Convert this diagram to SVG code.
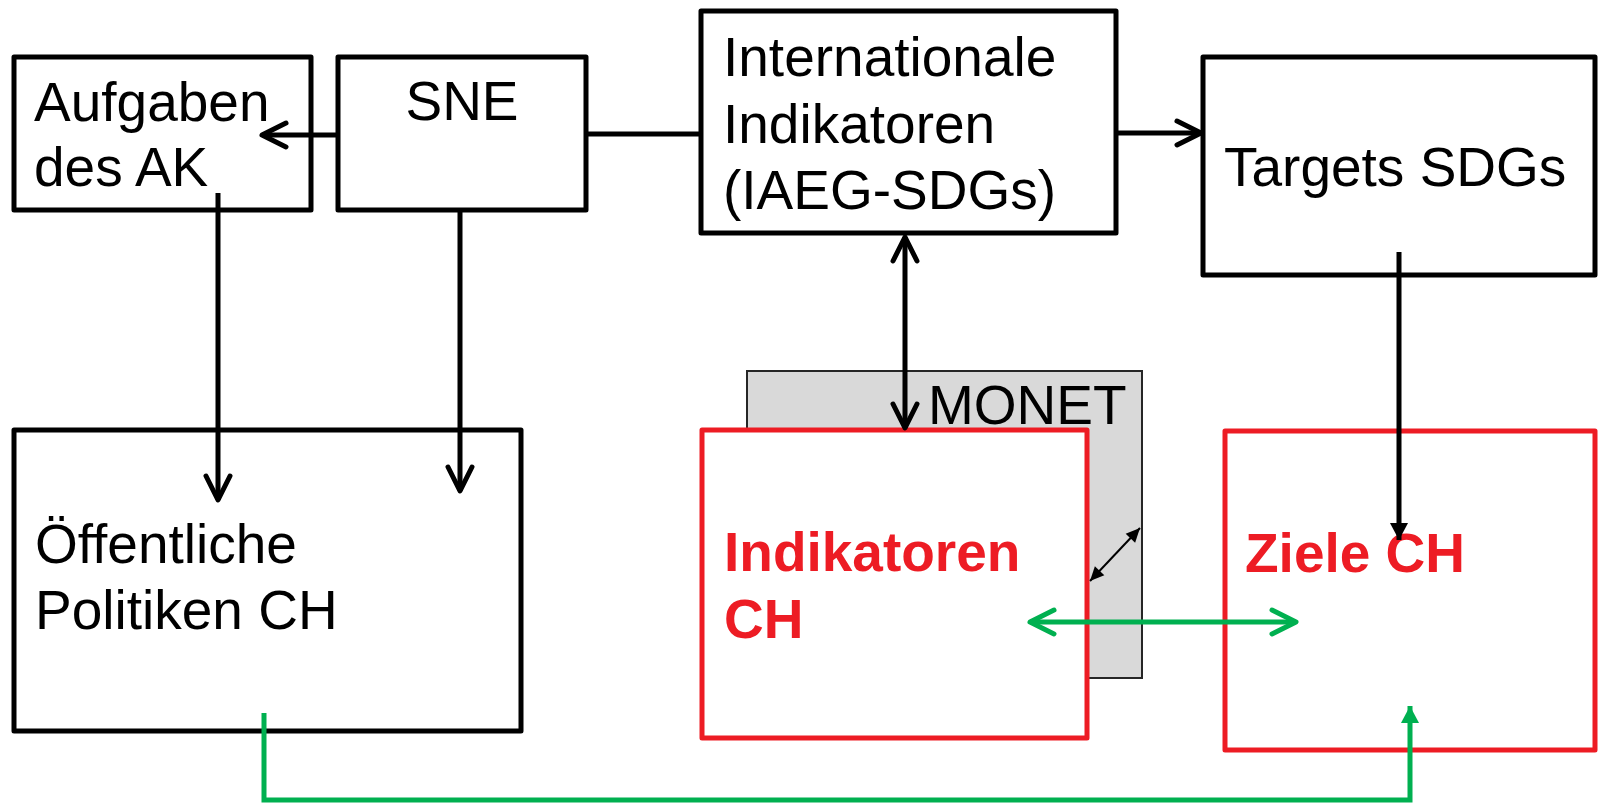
<svg xmlns="http://www.w3.org/2000/svg" width="1603" height="803" viewBox="0 0 1603 803">
<style>
.box{fill:#fff;stroke:#000;stroke-width:5;stroke-linejoin:round}
.rbox{fill:#fff;stroke:#ED1C24;stroke-width:5;stroke-linejoin:round}
.t{font-family:"Liberation Sans",Arial,sans-serif;font-size:55px;fill:#000}
.rt{font-family:"Liberation Sans",Arial,sans-serif;font-size:55px;font-weight:bold;fill:#ED1C24}
.bl{fill:none;stroke:#000;stroke-width:5}
.gl{fill:none;stroke:#00B050;stroke-width:5}
</style>
<defs>
<marker id="chev" markerUnits="userSpaceOnUse" viewBox="-30 -16 34 32" refX="0" refY="0" markerWidth="34" markerHeight="32" orient="auto-start-reverse" overflow="visible">
<path d="M-24 -12 L0 0 L-24 12" fill="none" stroke="#000" stroke-width="5" stroke-linecap="round" stroke-linejoin="round"/>
</marker>
<marker id="gchev" markerUnits="userSpaceOnUse" viewBox="-30 -16 34 32" refX="0" refY="0" markerWidth="34" markerHeight="32" orient="auto-start-reverse" overflow="visible">
<path d="M-24 -12 L0 0 L-24 12" fill="none" stroke="#00B050" stroke-width="5" stroke-linecap="round" stroke-linejoin="round"/>
</marker>
<marker id="tri" markerUnits="userSpaceOnUse" viewBox="-20 -10 22 20" refX="0" refY="0" markerWidth="22" markerHeight="20" orient="auto" overflow="visible">
<path d="M-17 -9 L0 0 L-17 9 Z" fill="#000"/>
</marker>
<marker id="gtri" markerUnits="userSpaceOnUse" viewBox="-20 -10 22 20" refX="0" refY="0" markerWidth="22" markerHeight="20" orient="auto" overflow="visible">
<path d="M-17 -9 L0 0 L-17 9 Z" fill="#00B050"/>
</marker>
<marker id="stri" markerUnits="userSpaceOnUse" viewBox="-16 -8 18 16" refX="0" refY="0" markerWidth="18" markerHeight="16" orient="auto-start-reverse" overflow="visible">
<path d="M-14 -6.5 L0 0 L-14 6.5 Z" fill="#000"/>
</marker>
</defs>

<g id="aufgaben">
<rect class="box" x="14" y="57" width="297" height="153"/>
<text class="t" x="34" y="121">Aufgaben</text>
<text class="t" x="34" y="186">des AK</text>
</g>
<g id="sne">
<rect class="box" x="338" y="57" width="248" height="153"/>
<text class="t" x="462" y="120" text-anchor="middle">SNE</text>
</g>
<g id="internationale">
<rect class="box" x="701" y="11" width="415" height="222"/>
<text class="t" x="723" y="76">Internationale</text>
<text class="t" x="723" y="142.5">Indikatoren</text>
<text class="t" x="723" y="209">(IAEG-SDGs)</text>
</g>
<g id="targets">
<rect class="box" x="1203" y="57" width="392" height="218"/>
<text class="t" x="1224" y="186">Targets SDGs</text>
</g>
<g id="oeffentliche">
<rect class="box" x="14" y="430" width="507" height="301"/>
<text class="t" x="35" y="563">Öffentliche</text>
<text class="t" x="35" y="629">Politiken CH</text>
</g>
<g id="monet">
<rect x="747" y="371" width="395" height="307" fill="#D9D9D9" stroke="#262626" stroke-width="2"/>
<text class="t" x="928" y="424">MONET</text>
</g>
<g id="indikatoren-ch">
<rect class="rbox" x="702" y="430" width="385" height="308"/>
<text class="rt" x="724" y="571">Indikatoren</text>
<text class="rt" x="724" y="638">CH</text>
</g>
<g id="ziele-ch">
<rect class="rbox" x="1225" y="431" width="370" height="319"/>
<text class="rt" x="1245" y="572">Ziele CH</text>
</g>

<g id="connectors">
<path class="bl" d="M338 135 L262 135" marker-end="url(#chev)"/>
<path class="bl" d="M586 134 L701 134"/>
<path class="bl" d="M1116 133 L1201 133" marker-end="url(#chev)"/>
<path class="bl" d="M218 193 L218 500" marker-end="url(#chev)"/>
<path class="bl" d="M460 211 L460 491" marker-end="url(#chev)"/>
<path class="bl" d="M905 237 L905 428" marker-start="url(#chev)" marker-end="url(#chev)"/>
<path class="bl" d="M1399 252 L1399 540" marker-end="url(#tri)"/>
<path d="M1090 581 L1140 528" fill="none" stroke="#000" stroke-width="2" marker-start="url(#stri)" marker-end="url(#stri)"/>
<path class="gl" d="M1030 622 L1296 622" marker-start="url(#gchev)" marker-end="url(#gchev)"/>
<path class="gl" d="M264 713 L264 800 L1410 800 L1410 706" marker-end="url(#gtri)"/>
</g>
</svg>
